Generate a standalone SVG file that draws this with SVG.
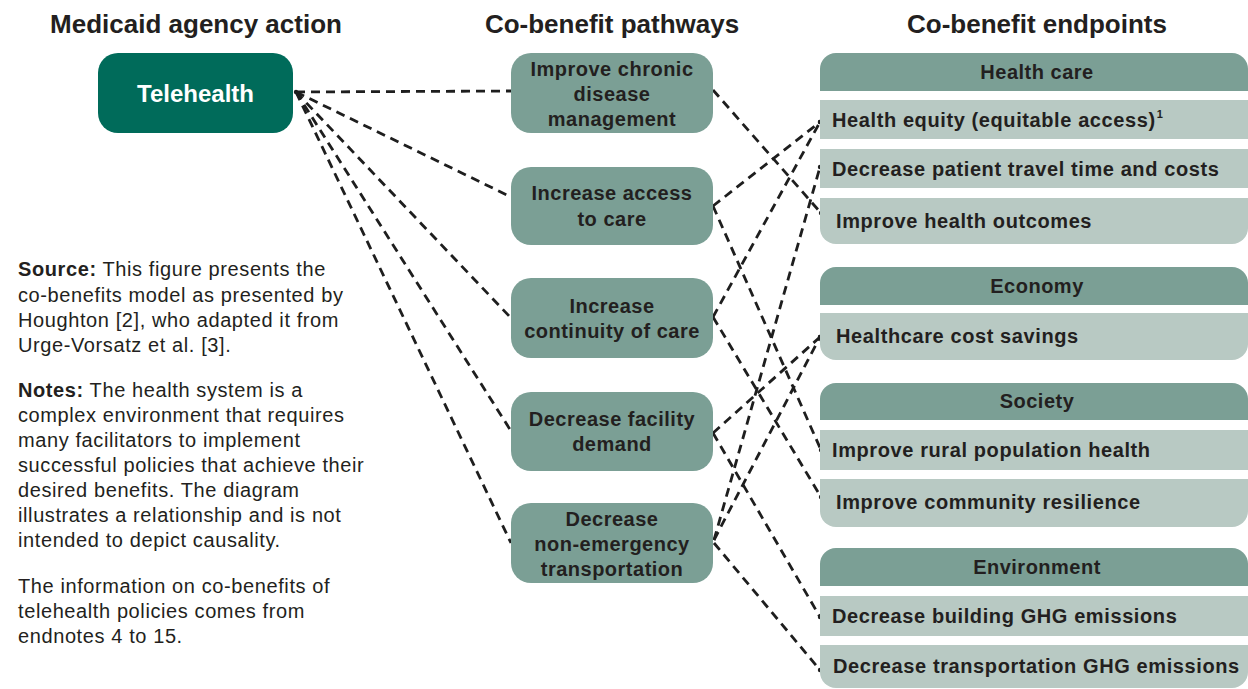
<svg xmlns="http://www.w3.org/2000/svg" width="1248" height="689" viewBox="0 0 1248 689">
  <style>
    text { font-family: "Liberation Sans", Arial, sans-serif; fill: #231f20; }
    .title { font-size: 26px; font-weight: bold; text-anchor: middle; }
    .action { font-size: 24px; font-weight: bold; fill: #ffffff; text-anchor: middle; }
    .path-label { font-size: 20px; font-weight: bold; letter-spacing: 0.5px; text-anchor: middle; }
    .head-label { font-size: 20px; font-weight: bold; letter-spacing: 0.5px; text-anchor: middle; }
    .end-label { font-size: 20px; font-weight: bold; letter-spacing: 0.6px; }
    .note { font-size: 20px; letter-spacing: 0.6px; }
    .note tspan.b { font-weight: bold; }
    .action-box { fill: #006b5a; }
    .path-box { fill: #7b9f95; }
    .head-box { fill: #7b9f95; }
    .row-box { fill: #b8c9c3; }
    .link { fill: none; stroke: #1e1e1e; stroke-width: 2.8; stroke-dasharray: 9 6; }
  </style>
  <defs>
    <marker id="dot" viewBox="0 0 6 6" refX="3" refY="3" markerWidth="6" markerHeight="6" markerUnits="userSpaceOnUse">
      <circle cx="3" cy="3" r="2.2" fill="#1e1e1e"/>
    </marker>
  </defs>

  <rect width="1248" height="689" fill="#ffffff"/>

  <!-- column titles -->
  <g id="titles">
    <text class="title" x="196" y="33">Medicaid agency action</text>
    <text class="title" x="612" y="33">Co-benefit pathways</text>
    <text class="title" x="1037" y="33">Co-benefit endpoints</text>
  </g>

  <!-- dashed links -->
  <g id="connectors">
    <!-- telehealth to pathways -->
    <path class="link" d="M296,92 L511,91" marker-start="url(#dot)"/>
    <path class="link" d="M296,92 L511,197"/>
    <path class="link" d="M296,92 L511,318"/>
    <path class="link" d="M296,92 L511,431"/>
    <path class="link" d="M296,92 L511,543"/>
    <!-- pathways to endpoints -->
    <path class="link" d="M713,90 L821,213" marker-end="url(#dot)"/>
    <path class="link" d="M713,206 L820,122" marker-end="url(#dot)"/>
    <path class="link" d="M713,206 L821,450" marker-end="url(#dot)"/>
    <path class="link" d="M713,317 L820,122" marker-end="url(#dot)"/>
    <path class="link" d="M713,317 L821,497" marker-end="url(#dot)"/>
    <path class="link" d="M713,433 L820,337" marker-end="url(#dot)"/>
    <path class="link" d="M713,433 L820,617" marker-end="url(#dot)"/>
    <path class="link" d="M714,540 L820,167" marker-end="url(#dot)"/>
    <path class="link" d="M714,540 L820,337" marker-end="url(#dot)"/>
    <path class="link" d="M714,543 L820,670" marker-end="url(#dot)"/>
  </g>

  <!-- action -->
  <g id="telehealth">
    <rect class="action-box" x="98" y="53" width="195" height="80" rx="20"/>
    <text class="action" x="195.5" y="102">Telehealth</text>
  </g>

  <!-- pathways -->
  <g id="chronic-disease">
    <rect class="path-box" x="511" y="53" width="202" height="80" rx="20"/>
    <text class="path-label" x="612" y="76">Improve chronic</text>
    <text class="path-label" x="612" y="101">disease</text>
    <text class="path-label" x="612" y="126">management</text>
  </g>
  <g id="access-to-care">
    <rect class="path-box" x="511" y="167" width="202" height="78" rx="20"/>
    <text class="path-label" x="612" y="200">Increase access</text>
    <text class="path-label" x="612" y="226">to care</text>
  </g>
  <g id="continuity-of-care">
    <rect class="path-box" x="511" y="278" width="202" height="80" rx="20"/>
    <text class="path-label" x="612" y="313">Increase</text>
    <text class="path-label" x="612" y="338">continuity of care</text>
  </g>
  <g id="facility-demand">
    <rect class="path-box" x="511" y="392" width="202" height="79" rx="20"/>
    <text class="path-label" x="612" y="426">Decrease facility</text>
    <text class="path-label" x="612" y="451">demand</text>
  </g>
  <g id="non-emergency-transport">
    <rect class="path-box" x="511" y="503" width="202" height="80" rx="20"/>
    <text class="path-label" x="612" y="526">Decrease</text>
    <text class="path-label" x="612" y="551">non-emergency</text>
    <text class="path-label" x="612" y="576">transportation</text>
  </g>

  <!-- endpoint panels -->
  <g id="health-care">
    <path class="head-box" d="M820,91 V69 A16,16 0 0 1 836,53 H1232 A16,16 0 0 1 1248,69 V91 Z"/>
    <text class="head-label" x="1037" y="79">Health care</text>
    <rect class="row-box" x="820" y="100" width="428" height="39"/>
    <text class="end-label" x="832" y="127">Health equity (equitable access)<tspan font-size="11" dx="1" dy="-9">1</tspan></text>
    <rect class="row-box" x="820" y="149" width="428" height="39"/>
    <text class="end-label" x="832" y="176">Decrease patient travel time and costs</text>
    <path class="row-box" d="M820,198 H1248 V228 A16,16 0 0 1 1232,244 H836 A16,16 0 0 1 820,228 Z"/>
    <text class="end-label" x="836" y="228">Improve health outcomes</text>
  </g>
  <g id="economy">
    <path class="head-box" d="M820,305 V283 A16,16 0 0 1 836,267 H1232 A16,16 0 0 1 1248,283 V305 Z"/>
    <text class="head-label" x="1037" y="293">Economy</text>
    <path class="row-box" d="M820,313 H1248 V344 A16,16 0 0 1 1232,360 H836 A16,16 0 0 1 820,344 Z"/>
    <text class="end-label" x="836" y="343">Healthcare cost savings</text>
  </g>
  <g id="society">
    <path class="head-box" d="M820,420 V399 A16,16 0 0 1 836,383 H1232 A16,16 0 0 1 1248,399 V420 Z"/>
    <text class="head-label" x="1037" y="408">Society</text>
    <rect class="row-box" x="820" y="430" width="428" height="40"/>
    <text class="end-label" x="832" y="457">Improve rural population health</text>
    <path class="row-box" d="M820,479 H1248 V511 A16,16 0 0 1 1232,527 H836 A16,16 0 0 1 820,511 Z"/>
    <text class="end-label" x="836" y="509">Improve community resilience</text>
  </g>
  <g id="environment">
    <path class="head-box" d="M820,586 V564 A16,16 0 0 1 836,548 H1232 A16,16 0 0 1 1248,564 V586 Z"/>
    <text class="head-label" x="1037" y="574">Environment</text>
    <rect class="row-box" x="820" y="596" width="428" height="40"/>
    <text class="end-label" x="832" y="623">Decrease building GHG emissions</text>
    <path class="row-box" d="M820,645 H1248 V672 A16,16 0 0 1 1232,688 H836 A16,16 0 0 1 820,672 Z"/>
    <text class="end-label" x="833" y="673">Decrease transportation GHG emissions</text>
  </g>

  <!-- source and notes -->
  <g id="notes">
    <text class="note" x="18" y="276"><tspan class="b">Source:</tspan> This figure presents the</text>
    <text class="note" x="18" y="302">co-benefits model as presented by</text>
    <text class="note" x="18" y="327">Houghton [2], who adapted it from</text>
    <text class="note" x="18" y="352">Urge-Vorsatz et al. [3].</text>
    <text class="note" x="18" y="397"><tspan class="b">Notes:</tspan> The health system is a</text>
    <text class="note" x="18" y="422">complex environment that requires</text>
    <text class="note" x="18" y="447">many facilitators to implement</text>
    <text class="note" x="18" y="472">successful policies that achieve their</text>
    <text class="note" x="18" y="497">desired benefits. The diagram</text>
    <text class="note" x="18" y="522">illustrates a relationship and is not</text>
    <text class="note" x="18" y="547">intended to depict causality.</text>
    <text class="note" x="18" y="593">The information on co-benefits of</text>
    <text class="note" x="18" y="618">telehealth policies comes from</text>
    <text class="note" x="18" y="643">endnotes 4 to 15.</text>
  </g>
</svg>
